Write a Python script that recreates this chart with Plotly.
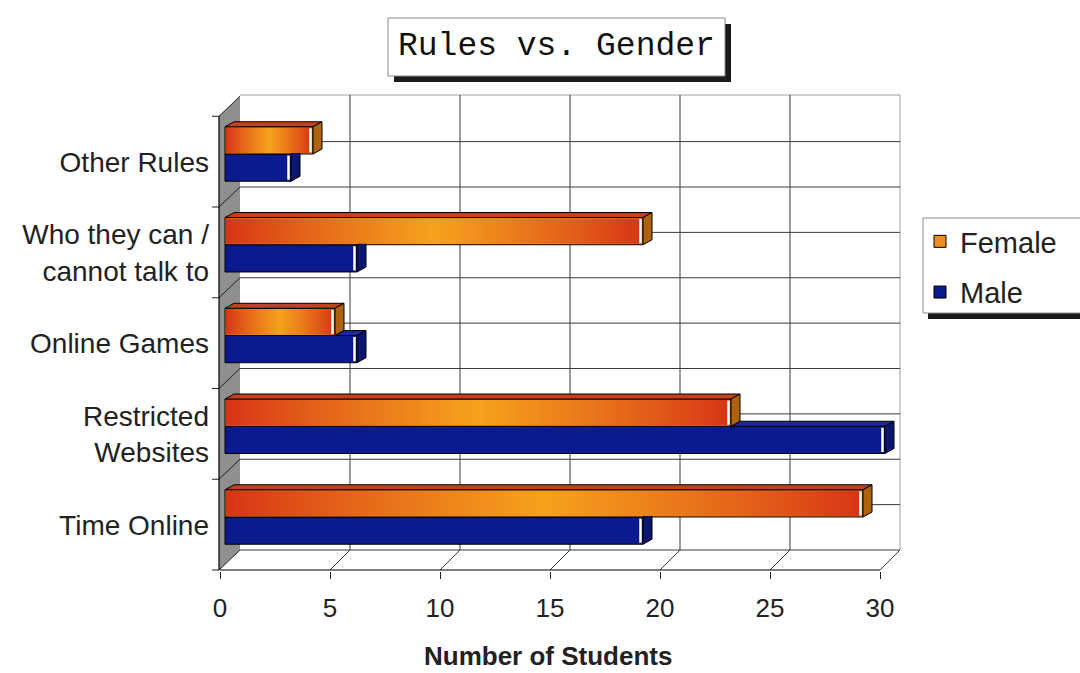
import plotly.graph_objects as go

# ---- data -------------------------------------------------------------
categories = ["Time Online", "Restricted<br>Websites", "Online Games",
              "Who they can /<br>cannot talk to", "Other Rules"]
female = [29, 23, 5, 19, 4]
male = [19, 30, 6, 6, 3]
x_ticks = [0, 5, 10, 15, 20, 25, 30]
x_tick_text = ["0", "5", "10", "15", "20", "25", "30"]

# ---- page / plot-area geometry (pixels) ------------------------------
W, H = 1080, 673
PL, PR, PT, PB = 212, 910, 88, 571          # plot area edges
X0, SX = 225.0, 22.0                         # bar plane: x pixel of 0, px per unit
Y0, SY = 517.0, 90.75                        # bar plane: y pixel of category 0, px per category
FRONT_X = 220.0                              # x pixel of 0 on the front floor edge
FRONT_Y = 570.0                              # y pixel of the front floor edge
DEPTH = 20.0                                 # wall depth offset (px, right and up)
BAR_DX, BAR_DY = 9.0, 5.0                    # bar depth offset (px)
BAR_W = 0.30                                 # bar thickness in category units

FONT = "Arial, 'Liberation Sans', sans-serif"
TXT = "#222222"


def dx(px):
    return (px - X0) / SX


def dy(py):
    return (Y0 - py) / SY


def pap_x(px):
    return (px - PL) / (PR - PL)


def pap_y(py):
    return (PB - py) / (PB - PT)


def line(x0, y0, x1, y1, color, width=1.0, layer="below"):
    return dict(type="line", xref="x", yref="y", x0=dx(x0), y0=dy(y0),
                x1=dx(x1), y1=dy(y1), line=dict(color=color, width=width),
                layer=layer)


def poly(pts, fill, lcolor="black", lwidth=1.0, layer="above"):
    """Closed polygon in data units."""
    path = "M " + " L ".join(f"{x},{y}" for x, y in pts) + " Z"
    return dict(type="path", xref="x", yref="y", path=path, fillcolor=fill,
                line=dict(color=lcolor, width=lwidth), layer=layer)


def rect_px(x0, y0, x1, y1, fill, lcolor=None, lwidth=0):
    return dict(type="rect", xref="paper", yref="paper",
                x0=pap_x(x0), y0=pap_y(y1), x1=pap_x(x1), y1=pap_y(y0),
                fillcolor=fill, line=dict(color=lcolor or fill, width=lwidth),
                layer="above")


shapes = []
grid = "#3a3a3a"

# ---- back wall -------------------------------------------------------
back_left = FRONT_X + DEPTH
back_right = FRONT_X + DEPTH + SX * x_ticks[-1]
back_top = 95.0
back_bottom = FRONT_Y - DEPTH
shapes.append(line(back_left, back_top, back_right, back_top, "#a0a0a0"))
shapes.append(line(back_right, back_top, back_right, back_bottom, "#a0a0a0"))
for t in x_ticks[1:-1]:
    xb = back_left + SX * t
    shapes.append(line(xb, back_top, xb, back_bottom, grid))
n_cat = len(categories)
for k in range(n_cat):
    yb = back_bottom - SY * k
    shapes.append(line(back_left, yb, back_right, yb, grid))
    ym = yb - SY / 2
    shapes.append(line(back_left, ym, back_right, ym, grid))

# ---- floor -------------------------------------------------------------
for t in x_ticks[1:]:
    xf = FRONT_X + SX * t
    shapes.append(line(xf, FRONT_Y, xf + DEPTH, FRONT_Y - DEPTH, grid))
shapes.append(line(FRONT_X, FRONT_Y, FRONT_X + SX * x_ticks[-1], FRONT_Y, "black", 1.2))

# ---- left wall -------------------------------------------------------
front_top = FRONT_Y - SY * n_cat
shapes.append(poly([(dx(FRONT_X - 1), dy(FRONT_Y)), (dx(FRONT_X - 1), dy(front_top)),
                    (dx(back_left), dy(front_top - DEPTH)), (dx(back_left), dy(back_bottom))],
                   "#8f8f8f", lcolor="#8f8f8f", lwidth=0, layer="below"))
for k in range(n_cat + 1):
    yf = FRONT_Y - SY * k
    shapes.append(line(FRONT_X - 1, yf, back_left, yf - DEPTH, "#202020"))
    shapes.append(line(FRONT_X - 8, yf, FRONT_X - 1, yf, "#202020"))
shapes.append(line(FRONT_X - 1, front_top, FRONT_X - 1, FRONT_Y, "black", 1.2))

# ---- 3-D bar faces -----------------------------------------------------
bdx, bdy = BAR_DX / SX, BAR_DY / SY
RED = (214, 50, 22)
ORANGE = (246, 162, 30)


def grad(t):
    s = 1 - abs(2 * t - 1)
    s = s ** 0.85
    c = [round(RED[j] + (ORANGE[j] - RED[j]) * s) for j in range(3)]
    return f"rgb({c[0]},{c[1]},{c[2]})"


male_shapes, female_shapes = [], []
for i, (f, m) in enumerate(zip(female, male)):
    # male bar (below the category centre)
    yb, yt = i - BAR_W, i
    if m > f:
        male_shapes.append(poly([(f, yt), (m, yt), (m + bdx, yt + bdy), (f + bdx, yt + bdy)],
                                "#1c2a98"))
    male_shapes.append(poly([(m, yb), (m, yt), (m + bdx, yt + bdy), (m + bdx, yb + bdy)],
                            "#0a1672"))
    male_shapes.append(dict(type="line", xref="x", yref="y",
                            x0=m - 2.5 / SX, x1=m - 2.5 / SX,
                            y0=yb + 1.5 / SY, y1=yt - 1.5 / SY,
                            line=dict(color="white", width=2.5), layer="above"))

    # female bar (above the category centre) with a red-orange-red gradient
    yb, yt = i, i + BAR_W
    ins_x, ins_y = 1.0 / SX, 1.0 / SY
    n = 80
    span = f - 2 * ins_x
    for k in range(n):
        a = ins_x + span * k / n
        b = ins_x + span * (k + 1) / n
        female_shapes.append(dict(type="rect", xref="x", yref="y",
                                  x0=a, x1=min(b + 0.03, f - ins_x),
                                  y0=yb + ins_y, y1=yt - ins_y,
                                  fillcolor=grad((k + 0.5) / n),
                                  line=dict(width=0), layer="above"))
    female_shapes.append(poly([(0, yt), (f, yt), (f + bdx, yt + bdy), (bdx, yt + bdy)],
                              "#c2421a"))
    female_shapes.append(poly([(f, yb), (f, yt), (f + bdx, yt + bdy), (f + bdx, yb + bdy)],
                              "#b0620f"))
    female_shapes.append(dict(type="line", xref="x", yref="y",
                              x0=f - 2.5 / SX, x1=f - 2.5 / SX,
                              y0=yb + 1.5 / SY, y1=yt - 1.5 / SY,
                              line=dict(color="white", width=2.5), layer="above"))

shapes += male_shapes + female_shapes

# ---- title box and legend box ----------------------------------------
shapes.append(rect_px(394, 24, 731, 82, "#1a1a1a"))
shapes.append(rect_px(388, 18, 725, 76, "white", "#8a8a8a", 1))
shapes.append(rect_px(928, 223, 1095, 319, "#1a1a1a"))
shapes.append(rect_px(923, 218, 1090, 313, "white", "#8a8a8a", 1))

# ---- traces ------------------------------------------------------------
y_pos = list(range(n_cat))
fig = go.Figure()
fig.add_trace(go.Bar(
    name="Male", y=y_pos, x=male, orientation="h",
    width=BAR_W, offset=-BAR_W, legendgroup="m", legendrank=2,
    marker=dict(color="#0b1b8f", line=dict(color="black", width=1)),
))
fig.add_trace(go.Bar(
    name="Female", y=y_pos, x=female, orientation="h",
    width=BAR_W, offset=0.0, legendgroup="f", legendrank=1,
    marker=dict(color="#ef8c1e", line=dict(color="black", width=1)),
))

label_shift = 8.0 / SY
fig.update_layout(
    width=W, height=H,
    margin=dict(l=PL, r=W - PR, t=PT, b=H - PB, pad=0),
    paper_bgcolor="white", plot_bgcolor="white",
    barmode="overlay",
    shapes=shapes,
    showlegend=True,
    legend=dict(
        x=pap_x(920), y=pap_y(216), xanchor="left", yanchor="top",
        traceorder="grouped", tracegroupgap=10,
        bgcolor="rgba(0,0,0,0)", borderwidth=0,
        font=dict(family=FONT, size=29, color=TXT),
    ),
    xaxis=dict(
        range=[dx(PL), dx(PR)], showgrid=False, zeroline=False, showline=False,
        tickvals=[t - (X0 - FRONT_X) / SX for t in x_ticks], ticktext=x_tick_text,
        ticks="outside", ticklen=7, tickcolor="#222", tickwidth=1,
        ticklabelstandoff=7,
        tickfont=dict(family=FONT, size=26, color=TXT),
    ),
    yaxis=dict(
        range=[dy(PB), dy(PT)], showgrid=False, zeroline=False, showline=False,
        tickvals=[i - label_shift for i in y_pos], ticktext=categories,
        ticks="", ticklabelstandoff=2,
        tickfont=dict(family=FONT, size=28, color=TXT),
    ),
    annotations=[
        dict(text="Rules vs. Gender", xref="paper", yref="paper",
             x=pap_x(556), y=pap_y(46), xanchor="center", yanchor="middle",
             showarrow=False,
             font=dict(family="'Liberation Mono', 'Courier New', monospace", size=33,
                       color="#111")),
        dict(text="<b>Number of Students</b>", xref="paper", yref="paper",
             x=pap_x(548), y=pap_y(656), xanchor="center", yanchor="middle",
             showarrow=False, font=dict(family=FONT, size=26, color=TXT)),
    ],
)

fig.write_html("out.html")
